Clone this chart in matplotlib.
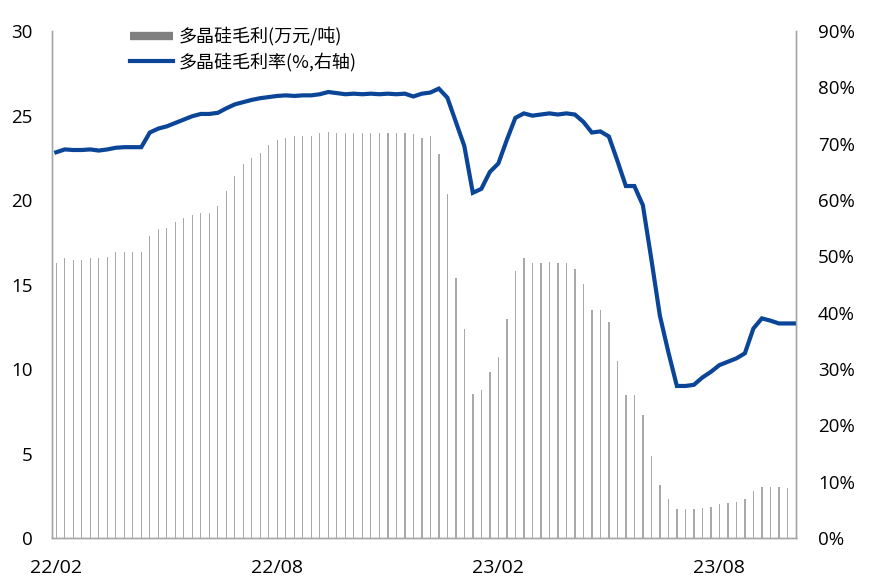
import numpy as np
import matplotlib

matplotlib.use("Agg")
import matplotlib.pyplot as plt
from matplotlib.lines import Line2D

plt.rcParams["font.family"] = ["Open Sans", "Noto Sans CJK SC", "DejaVu Sans"]

# weekly data, 22/02 .. 23/09 (last bar not yet reported)
gross_profit = [
    16.3, 16.55, 16.45, 16.45, 16.6, 16.55, 16.65, 16.9, 16.95, 16.95,
    16.95, 17.9, 18.3, 18.35, 18.7, 18.95, 19.1, 19.25, 19.25, 19.65,
    20.55, 21.4, 22.15, 22.5, 22.8, 23.25, 23.55, 23.65, 23.8, 23.8,
    23.8, 23.95, 24.05, 24.0, 24.0, 24.0, 24.0, 24.0, 24.0, 24.0,
    24.0, 24.0, 23.9, 23.65, 23.8, 22.75, 20.35, 15.4, 12.4, 8.5,
    8.75, 9.85, 10.7, 12.95, 15.8, 16.55, 16.25, 16.3, 16.35, 16.3,
    16.3, 15.95, 15.05, 13.5, 13.5, 12.8, 10.5, 8.45, 8.45, 7.3,
    4.85, 3.15, 2.3, 1.7, 1.7, 1.7, 1.8, 1.85, 2.0, 2.05,
    2.15, 2.3, 2.8, 3.0, 3.0, 3.0, 2.95, np.nan,
]
margin_pct = [
    68.5, 69.0, 68.9, 68.9, 69.0, 68.8, 69.0, 69.3, 69.4, 69.4,
    69.4, 72.0, 72.7, 73.1, 73.7, 74.3, 74.9, 75.3, 75.3, 75.5,
    76.3, 77.0, 77.4, 77.8, 78.1, 78.3, 78.5, 78.6, 78.5, 78.6,
    78.6, 78.8, 79.2, 79.0, 78.8, 78.9, 78.8, 78.9, 78.8, 78.9,
    78.8, 78.9, 78.4, 78.9, 79.1, 79.8, 78.2, 73.9, 69.6, 61.3,
    62.0, 65.0, 66.5, 70.7, 74.6, 75.4, 75.0, 75.2, 75.4, 75.2,
    75.4, 75.2, 73.9, 72.0, 72.2, 71.3, 67.0, 62.5, 62.5, 59.1,
    49.5, 39.5, 33.0, 27.0, 27.0, 27.2, 28.5, 29.5, 30.7, 31.3,
    31.9, 32.8, 37.2, 39.0, 38.6, 38.1, 38.1, 38.1,
]
tick_pos = [0, 26, 52, 78]
tick_labels = ["22/02", "22/08", "23/02", "23/08"]

bar_color = "#a9a9a9"
line_color = "#0a4597"
spine_color = "#a6a6a6"

fig = plt.figure(figsize=(8.7, 5.88), dpi=100)
ax = fig.add_axes([0.0598, 0.085, 0.855, 0.862])
ax2 = ax.twinx()

x = np.arange(len(gross_profit))
ax.bar(x, gross_profit, width=0.16, color=bar_color, linewidth=0)
ax2.plot(x, margin_pct, color=line_color, linewidth=3.0, solid_joinstyle="miter")

ax.set_xlim(-0.5, 87.0)
ax.set_ylim(0, 30)
ax2.set_ylim(0, 90)
ax.set_yticks(range(0, 31, 5))
ax2.set_yticks(range(0, 91, 10))
ax2.set_yticklabels([f"{v}%" for v in range(0, 91, 10)])
ax.set_xticks(tick_pos)
ax.set_xticklabels(tick_labels)

for a in (ax, ax2):
    a.spines["top"].set_visible(False)
    for side in ("left", "right", "bottom"):
        a.spines[side].set_color(spine_color)
        a.spines[side].set_linewidth(1.0)
    a.tick_params(length=0, labelsize=13.5, colors="#000000")
ax.tick_params(axis="y", pad=14)
ax2.tick_params(axis="y", pad=16)
ax.tick_params(axis="x", pad=15, labelsize=14)

handles = [
    Line2D([], [], color="#808080", linewidth=6, solid_capstyle="butt"),
    Line2D([], [], color=line_color, linewidth=3),
]
labels = ["多晶硅毛利(万元/吨)", "多晶硅毛利率(%,右轴)"]
ax2.legend(handles, labels, loc="upper left", bbox_to_anchor=(0.083, 1.04),
           frameon=False, prop={"family": ["Noto Sans CJK SC", "DejaVu Sans"], "size": 13},
           handlelength=2.4, handletextpad=0.3, labelspacing=0.35)

fig.savefig("out.png", dpi=100)
